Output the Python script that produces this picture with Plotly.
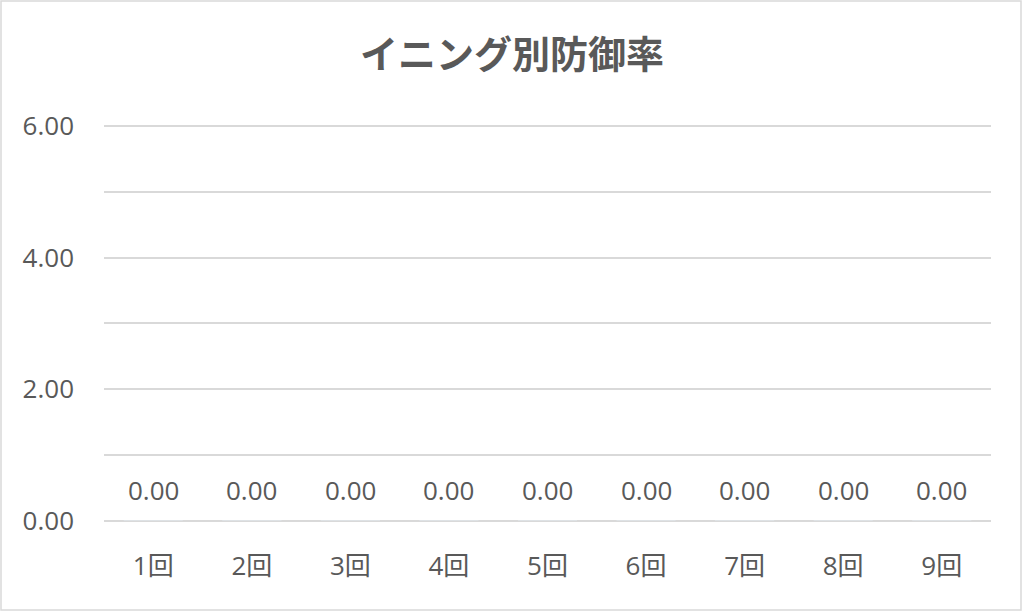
import plotly.graph_objects as go

categories = ["1回", "2回", "3回", "4回", "5回", "6回", "7回", "8回", "9回"]
era_values = [0.00, 0.00, 0.00, 0.00, 0.00, 0.00, 0.00, 0.00, 0.00]
y_tick_vals = [0, 1, 2, 3, 4, 5, 6]
y_tick_text = ["0.00", "", "2.00", "", "4.00", "", "6.00"]

GRAY = "#595959"
FONT = "Open Sans, Noto Sans CJK JP"
TFONT = "Noto Sans CJK JP"

W, H = 1024, 613
L, R, T, B = 104, 33, 123, 92
pw, ph = W - L - R, H - T - B

fig = go.Figure()
fig.add_trace(go.Bar(x=categories, y=era_values, marker_color="#4472C4", width=0.6,
                     hoverinfo="x+y"))

for c, v in zip(categories, era_values):
    fig.add_annotation(x=c, y=v, text=f"{v:.2f}", showarrow=False, yshift=31,
                       font=dict(family=FONT, size=26, color=GRAY))

fig.add_shape(type="rect", xref="paper", yref="paper",
              x0=(1 - L) / pw, x1=(W - 3 - L) / pw,
              y0=(H - B - (H - 3)) / ph, y1=(H - B - 1) / ph,
              line=dict(color="#d9d9d9", width=1.5), fillcolor="rgba(0,0,0,0)", layer="below")

fig.update_layout(
    width=W, height=H,
    margin=dict(l=L, r=R, t=T, b=B),
    paper_bgcolor="white", plot_bgcolor="white",
    showlegend=False,
    title=dict(text="<b>イニング別防御率</b>", x=0.5, xanchor="center", y=1 - 55 / H, yanchor="middle",
               font=dict(family=TFONT, size=38, color=GRAY)),
    font=dict(family=FONT, color=GRAY),
)
fig.update_xaxes(showgrid=False, showline=False, zeroline=False, ticks="",
                 tickfont=dict(family=FONT, size=26, color=GRAY), ticklabelstandoff=27)
fig.update_yaxes(range=[0, 6.045], tickvals=y_tick_vals, ticktext=y_tick_text,
                 showgrid=True, gridcolor="#d9d9d9", gridwidth=1.5,
                 zeroline=True, zerolinecolor="#d9d9d9", zerolinewidth=1.5,
                 showline=False, ticks="",
                 tickfont=dict(family=FONT, size=26, color=GRAY), ticklabelstandoff=29)

fig.write_html("out.html", config={"displayModeBar": False},
               post_script="document.body.style.margin='0';")
